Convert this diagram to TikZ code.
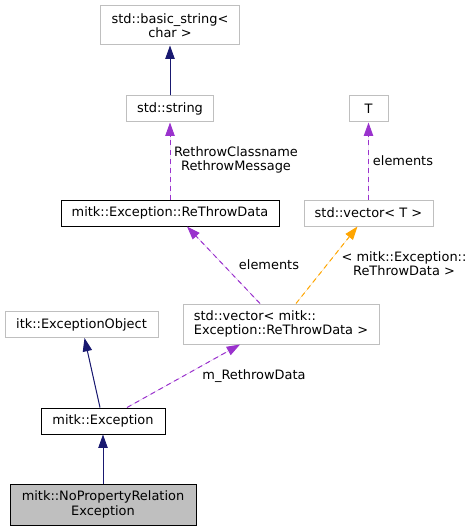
\documentclass[tikz,border=0pt]{standalone}
\usepackage{fontspec}
\setmainfont{DejaVu Sans}
\usetikzlibrary{arrows.meta}
\definecolor{edgeblue}{HTML}{191970}
\definecolor{edgepurple}{HTML}{9A32CD}
\definecolor{edgeorange}{HTML}{FFA500}
\definecolor{boxgrey}{HTML}{BFBFBF}
\begin{document}
\begin{tikzpicture}[x=0.75pt,y=-0.75pt,
    every node/.style={font=\fontsize{9.7pt}{10.75pt}\selectfont,inner sep=0pt},
    cls/.style={draw=boxgrey,line width=0.75pt,rectangle,minimum height=19.5pt,align=center},
    doc/.style={cls,draw=black},
    tip/.style={-{Triangle[length=10pt,width=7pt]}},
    inh/.style={tip,draw=edgeblue,fill=edgeblue,line width=0.75pt},
    usage/.style={tip,draw=edgepurple,fill=edgepurple,line width=0.75pt,dash pattern=on 3.75pt off 3pt},
    tmpl/.style={tip,draw=edgeorange,fill=edgeorange,line width=0.75pt,dash pattern=on 3.75pt off 3pt}]
    \useasboundingbox (0,0) rectangle (473,531);
    % boxes
    \node[cls,minimum width=104.25pt,minimum height=29.25pt] (bstr) at (170,25.5) {std::basic\_string<\\char >};
    \node[cls,minimum width=65.25pt] (str) at (170,109) {std::string};
    \node[cls,minimum width=29.25pt] (T) at (368.5,109) {T};
    \node[doc,minimum width=163.5pt] (rtd) at (170,213) {mitk::Exception::ReThrowData};
    \node[cls,minimum width=96.75pt] (vecT) at (368.5,213) {std::vector< T >};
    \node[cls,minimum width=147pt,minimum height=30pt,align=left] (vecrtd) at (281,324) {std::vector< mitk::\\Exception::ReThrowData >};
    \node[cls,minimum width=114.75pt] (itk) at (81.5,324.5) {itk::ExceptionObject};
    \node[doc,minimum width=93pt] (exc) at (103,421) {mitk::Exception};
    \node[doc,fill=boxgrey,minimum width=139.5pt,minimum height=30.75pt] (noprop) at (103,504.5) {mitk::NoPropertyRelation\\Exception};
    % edges
    \draw[inh] (str) -- (bstr);
    \draw[usage] (rtd) -- (str);
    \draw[usage] (vecT) -- (T);
    \draw[usage] ([xshift=-15.75pt]vecrtd.north) -- ([xshift=12.75pt]rtd.south);
    \draw[tmpl] ([xshift=11.25pt]vecrtd.north) -- ([xshift=-8.25pt]vecT.south);
    \draw[inh] ([xshift=-2.25pt]exc.north) -- ([xshift=2.25pt]itk.south);
    \draw[usage] ([xshift=18pt]exc.north) -- ([xshift=-30.75pt]vecrtd.south);
    \draw[inh] (noprop) -- (exc);
    % labels
    \node[align=center] (lstr) at (236,160) {RethrowClassname\\RethrowMessage};
    \node (lT) at (403,161) {elements};
    \node (lrtd) at (269,265) {elements};
    \node[align=center] (lvec) at (404,264) {< mitk::Exception::\\ReThrowData >};
    \node (lexc) at (254,376) {m\_RethrowData};
\end{tikzpicture}
\end{document}
